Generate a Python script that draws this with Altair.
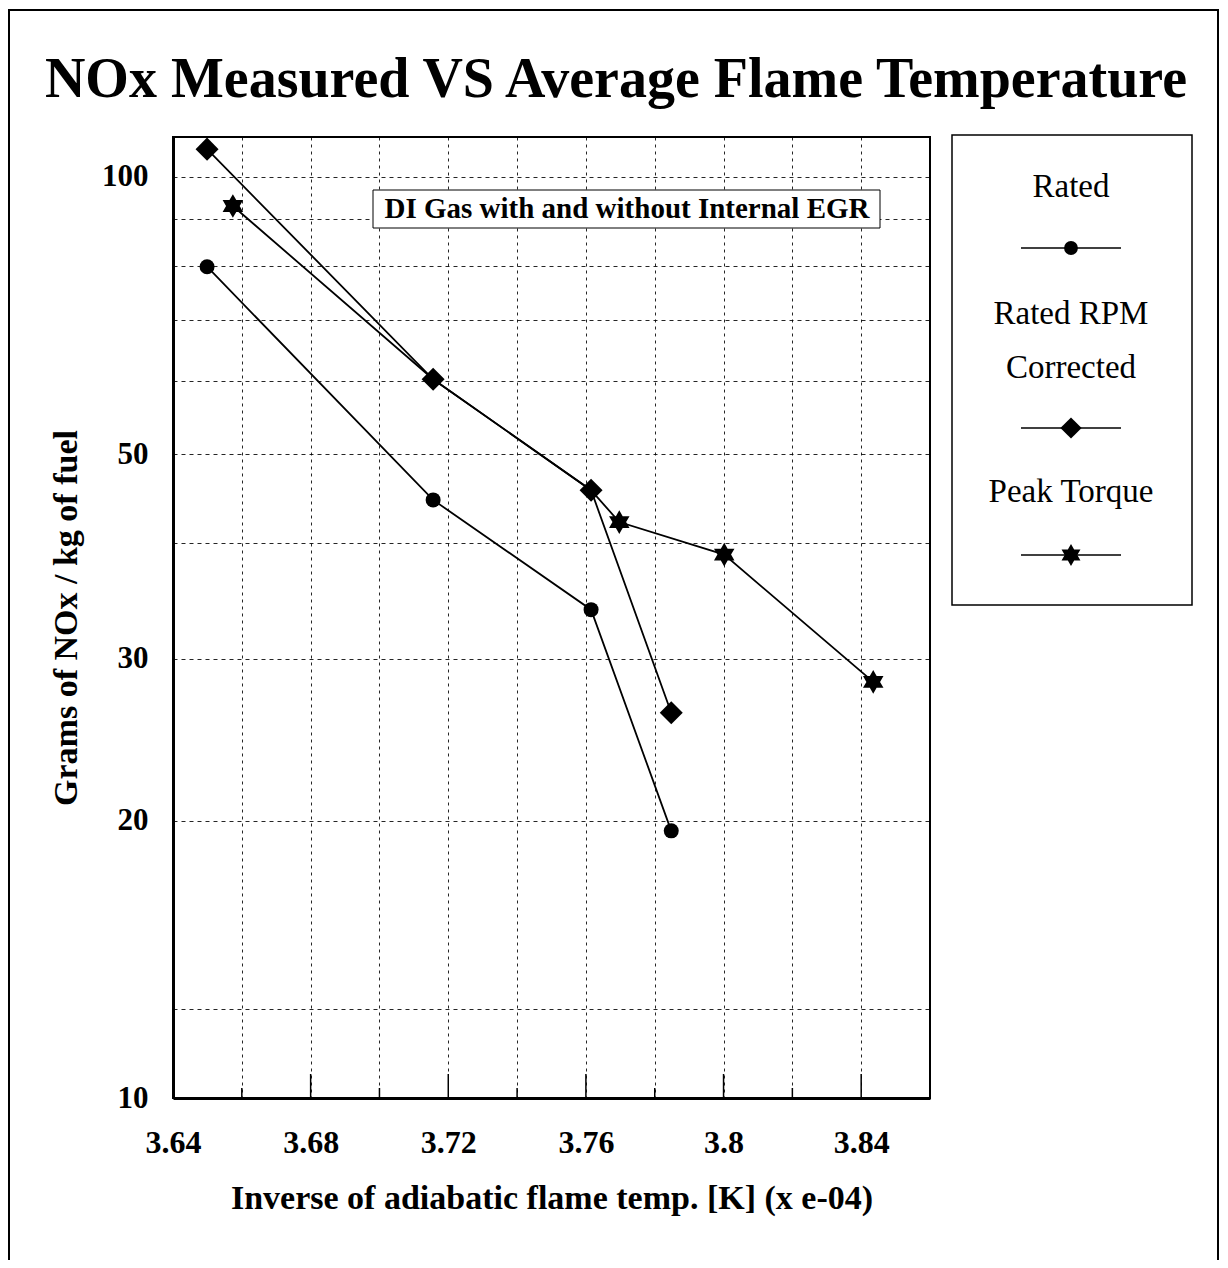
import altair as alt
import pandas as pd

# ---------------- data ----------------
series_names = ["Rated", "Rated RPM Corrected", "Peak Torque"]
legend_text = [["Rated"], ["Rated RPM", "Corrected"], ["Peak Torque"]]

rated_x = [3.6499, 3.7156, 3.7615, 3.7848]
rated_y = [79.9, 44.6, 33.9, 19.5]

rpm_x = [3.6499, 3.7156, 3.7615, 3.7848]
rpm_y = [107.2, 60.3, 45.7, 26.2]

peak_x = [3.6574, 3.7156, 3.7615, 3.7697, 3.8002, 3.8435]
peak_y = [93.0, 60.3, 45.7, 42.2, 38.9, 28.3]
peak_marker = [True, False, False, True, True, True]

x_ticks = [3.64, 3.66, 3.68, 3.70, 3.72, 3.74, 3.76, 3.78, 3.80, 3.82, 3.84, 3.86]
x_labels = [3.64, 3.68, 3.72, 3.76, 3.80, 3.84]
y_grid = [10, 12.5, 20, 30, 40, 50, 60, 70, 80, 90, 100]
y_labels = [10, 20, 30, 50, 100]

title_text = "NOx Measured VS Average Flame Temperature"
x_title = "Inverse of adiabatic flame temp. [K] (x e-04)"
y_title = "Grams of NOx / kg of fuel"
note_text = "DI Gas with and without Internal EGR"

# ---------------- tables ----------------
rows = []
for i, (x, y) in enumerate(zip(rated_x, rated_y)):
    rows.append(dict(series=series_names[0], x=x, y=y, order=i, marker=True))
for i, (x, y) in enumerate(zip(rpm_x, rpm_y)):
    rows.append(dict(series=series_names[1], x=x, y=y, order=i, marker=True))
for i, (x, y, m) in enumerate(zip(peak_x, peak_y, peak_marker)):
    rows.append(dict(series=series_names[2], x=x, y=y, order=i, marker=m))
df = pd.DataFrame(rows)

ticks_df = pd.DataFrame({"x": x_ticks,
                         "major": [any(abs(t - l) < 1e-6 for l in x_labels) for t in x_ticks]})
one = pd.DataFrame({"k": [0]})

SERIF = "Liberation Serif"
W, H = 757, 961
STAR = ("M0,-1L0.2887,-0.5L0.866,-0.5L0.5774,0L0.866,0.5L0.2887,0.5L0,1"
        "L-0.2887,0.5L-0.866,0.5L-0.5774,0L-0.866,-0.5L-0.2887,-0.5Z")
shapes = ["circle", "diamond", STAR]
sizes = [225, 530, 560]

xl = ",".join(str(int(round(v * 100))) for v in x_labels)
yl = ",".join(str(v) for v in y_labels)

x_enc = alt.X(
    "x:Q",
    scale=alt.Scale(domain=[3.64, 3.86], nice=False, zero=False),
    axis=alt.Axis(
        values=x_ticks,
        labelExpr=f"indexof([{xl}], round(datum.value*100)) >= 0 ? toString(round(datum.value*100)/100) : ''",
        title=x_title, grid=True, gridDash=[3, 4], gridColor="black", gridWidth=1, gridOpacity=0.85,
        ticks=False, labelPadding=29, labelFlush=False, labelOverlap=False,
        labelFont=SERIF, labelFontSize=32, labelFontWeight="bold", labelColor="black",
        titleFont=SERIF, titleFontSize=34, titleFontWeight="bold", titleColor="black",
        titleX=W / 2, titleY=110, titleBaseline="alphabetic", titleAlign="center",
        domainColor="black", domainWidth=3,
    ),
)
y_enc = alt.Y(
    "y:Q",
    scale=alt.Scale(type="log", domain=[10, 110.5], nice=False),
    axis=alt.Axis(
        values=y_grid,
        labelExpr=f"indexof([{yl}], datum.value) >= 0 ? toString(datum.value) : ''",
        title=y_title, grid=True, gridDash=[4, 4], gridColor="black", gridWidth=1, gridOpacity=0.85,
        ticks=False, labelPadding=25, labelFlush=False, labelOverlap=False,
        labelFont=SERIF, labelFontSize=31, labelFontWeight="bold", labelColor="black",
        labelBaseline="middle",
        titleFont=SERIF, titleFontSize=34, titleFontWeight="bold", titleColor="black",
        titleX=-97, titleY=H / 2, titleBaseline="alphabetic", titleAlign="center", titleAngle=270,
        domainColor="black", domainWidth=3,
    ),
)

layers = []

# outer frame
layers.append(alt.Chart(one).mark_rect(fill=None, stroke="black", strokeWidth=2).encode(
    x=alt.value(-164), x2=alt.value(1045), y=alt.value(-127), y2=alt.value(1140)))

# title
layers.append(alt.Chart(one).mark_text(
    text=title_text, font=SERIF, fontSize=56, fontWeight="bold", color="black",
    align="center", baseline="alphabetic").encode(x=alt.value(443), y=alt.value(-40)))

# series lines
layers.append(alt.Chart(df).mark_line(color="black", strokeWidth=1.8).encode(
    x=x_enc, y=y_enc, detail="series:N", order="order:Q"))

# plot border (top/right)
layers.append(alt.Chart(one).mark_rect(fill=None, stroke="black", strokeWidth=2).encode(
    x=alt.value(0), x2=alt.value(W), y=alt.value(0), y2=alt.value(H)))

# inward x ticks
layers.append(alt.Chart(ticks_df).transform_filter("datum.major").mark_rule(
    color="black", strokeWidth=1.5).encode(x=x_enc, y=alt.value(H), y2=alt.value(H - 24)))
layers.append(alt.Chart(ticks_df).transform_filter("!datum.major").mark_rule(
    color="black", strokeWidth=1.5).encode(x=x_enc, y=alt.value(H), y2=alt.value(H - 10)))

# markers
for name, shp, sz in zip(series_names, shapes, sizes):
    layers.append(alt.Chart(df).transform_filter(
        f"datum.series == '{name}' && datum.marker").mark_point(
        shape=shp, size=sz, filled=True, fill="black", color="black", opacity=1).encode(x=x_enc, y=y_enc))

# annotation box
layers.append(alt.Chart(one).mark_rect(fill="white", stroke="black", strokeWidth=1).encode(
    x=alt.value(200), x2=alt.value(707), y=alt.value(53), y2=alt.value(91)))
layers.append(alt.Chart(one).mark_text(
    text=note_text, font=SERIF, fontSize=29, fontWeight="bold", color="black",
    align="center", baseline="middle").encode(x=alt.value(454), y=alt.value(72)))

# legend
LX0, LX1, LY0, LY1 = 779, 1019, -2, 468
layers.append(alt.Chart(one).mark_rect(fill="white", stroke="black", strokeWidth=1.5).encode(
    x=alt.value(LX0), x2=alt.value(LX1), y=alt.value(LY0), y2=alt.value(LY1)))
cx = 898
text_ys = [[50], [177, 231], [355]]
line_ys = [111, 291, 418]
for lines_, tys, ly, shp, sz in zip(legend_text, text_ys, line_ys, shapes, sizes):
    for t, ty in zip(lines_, tys):
        layers.append(alt.Chart(one).mark_text(
            text=t, font=SERIF, fontSize=33, color="black", align="center",
            baseline="middle").encode(x=alt.value(cx), y=alt.value(ty)))
    layers.append(alt.Chart(one).mark_rule(color="black", strokeWidth=1.5).encode(
        x=alt.value(cx - 50), x2=alt.value(cx + 50), y=alt.value(ly)))
    layers.append(alt.Chart(one).mark_point(
        shape=shp, size=sz * 0.85, filled=True, fill="black", color="black", opacity=1).encode(
        x=alt.value(cx), y=alt.value(ly)))

chart = alt.layer(*layers).properties(
    width=W, height=H,
    autosize=alt.AutoSizeParams(type="none"),
    padding={"left": 165, "top": 129, "right": 290, "bottom": 162},
).configure_view(stroke="black", strokeWidth=2).configure(background="white")

chart.save("out.html", embed_options={"renderer": "svg", "actions": False})
